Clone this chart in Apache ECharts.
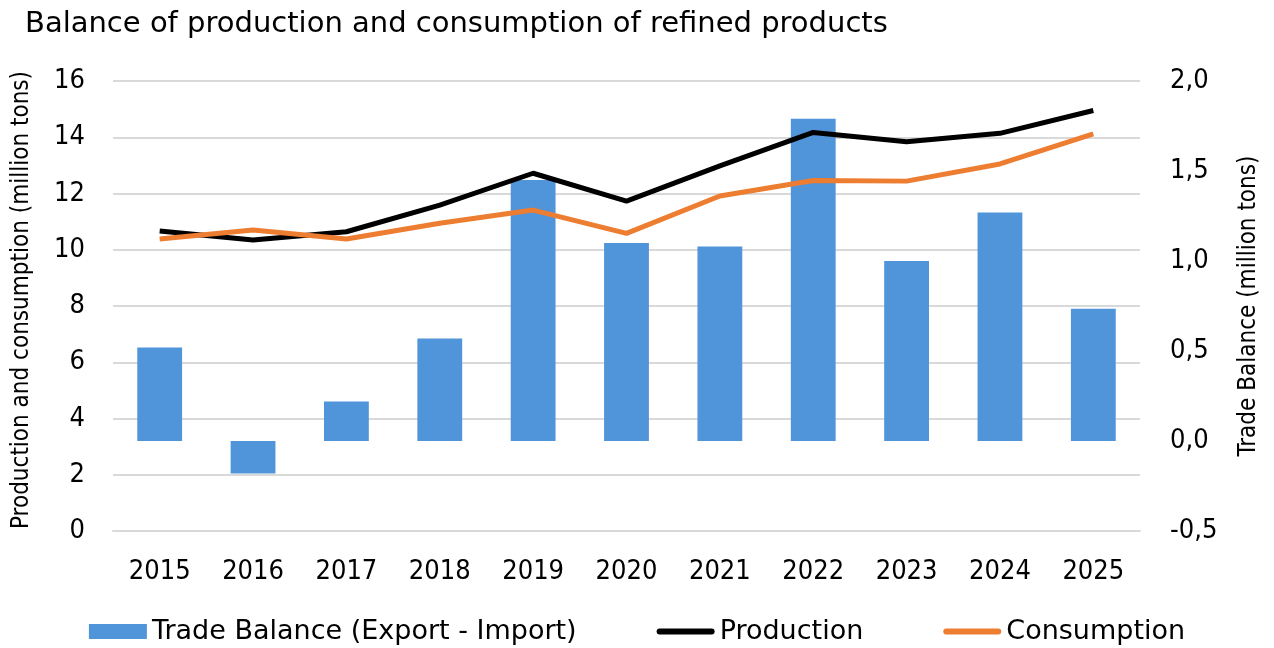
<!DOCTYPE html>
<html><head><meta charset="utf-8">
<script src="https://cdn.jsdelivr.net/npm/echarts@6/dist/echarts.min.js"></script>
<style>html,body{margin:0;padding:0;background:#fff}#c{width:1274px;height:648px}</style>
</head><body><div id="c"></div>
<script>
const years = ['2015','2016','2017','2018','2019','2020','2021','2022','2023','2024','2025'];
const tradeBalance = [0.52, -0.18, 0.22, 0.57, 1.45, 1.10, 1.08, 1.79, 1.00, 1.27, 0.735];
const production = [10.67, 10.35, 10.64, 11.59, 12.72, 11.73, 12.98, 14.17, 13.84, 14.14, 14.95];
const consumption = [10.38, 10.70, 10.38, 10.94, 11.41, 10.58, 11.91, 12.46, 12.44, 13.05, 14.12];

const FONT = 'DejaVu Sans Condensed, DejaVu Sans, sans-serif';
const FONT_W = 'DejaVu Sans, sans-serif';
const LINE_ICON = 'path://M3,0 H55 A3,3 0 0 1 55,6 H3 A3,3 0 0 1 3,0 Z';
const chart = echarts.init(document.getElementById('c'), null, {renderer:'canvas'});
chart.setOption({
  animation: false,
  textStyle: {fontFamily: FONT},
  title: {
    text: 'Balance of production and consumption of refined products',
    left: 20, top: 5,
    textStyle: {fontFamily: FONT_W, fontSize: 29, fontWeight: 'normal', color: '#000'}
  },
  legend: {
    bottom: -2, left: 'center',
    itemGap: 80,
    itemWidth: 58, itemHeight: 15,
    textStyle: {fontFamily: FONT_W, fontSize: 27, color: '#000'},
    data: [
      {name: 'Trade Balance (Export - Import)', icon: 'rect'},
      {name: 'Production', icon: LINE_ICON},
      {name: 'Consumption', icon: LINE_ICON}
    ]
  },
  grid: {left: 113, right: 134, top: 81, bottom: 117, containLabel: false},
  xAxis: {
    type: 'category', data: years,
    axisLine: {show: true, lineStyle: {color: '#d9d9d9', width: 2}},
    axisTick: {show: false},
    axisLabel: {fontFamily: FONT, fontSize: 27, color: '#000', margin: 27}
  },
  yAxis: [
    {
      type: 'value', min: 0, max: 16, interval: 2, position: 'left',
      name: 'Production and consumption (million tons)',
      nameLocation: 'middle', nameGap: 79, nameRotate: 90,
      nameTextStyle: {fontFamily: FONT, fontSize: 24, color: '#000', padding: [0, 0, 0, 12]},
      axisLine: {show: false}, axisTick: {show: false},
      splitLine: {show: true, lineStyle: {color: '#d9d9d9', width: 2}},
      axisLabel: {fontFamily: FONT, fontSize: 27, color: '#000', margin: 28}
    },
    {
      type: 'value', min: -0.5, max: 2.0, interval: 0.5, position: 'right',
      name: 'Trade Balance (million tons)',
      nameLocation: 'middle', nameGap: 97, nameRotate: 90,
      nameTextStyle: {fontFamily: FONT, fontSize: 24, color: '#000'},
      axisLine: {show: false}, axisTick: {show: false},
      splitLine: {show: false},
      axisLabel: {fontFamily: FONT, fontSize: 27, color: '#000', margin: 30,
        formatter: v => v.toFixed(1).replace('.', ',')}
    }
  ],
  series: [
    {
      name: 'Trade Balance (Export - Import)', type: 'bar', yAxisIndex: 1,
      data: tradeBalance, barWidth: '48%',
      itemStyle: {color: '#5094D9'}
    },
    {
      name: 'Production', type: 'line', yAxisIndex: 0, data: production,
      symbol: 'none', lineStyle: {color: '#000', width: 5}, itemStyle: {color: '#000'}
    },
    {
      name: 'Consumption', type: 'line', yAxisIndex: 0, data: consumption,
      symbol: 'none', lineStyle: {color: '#ED7D31', width: 5}, itemStyle: {color: '#ED7D31'}
    }
  ]
});
</script></body></html>
